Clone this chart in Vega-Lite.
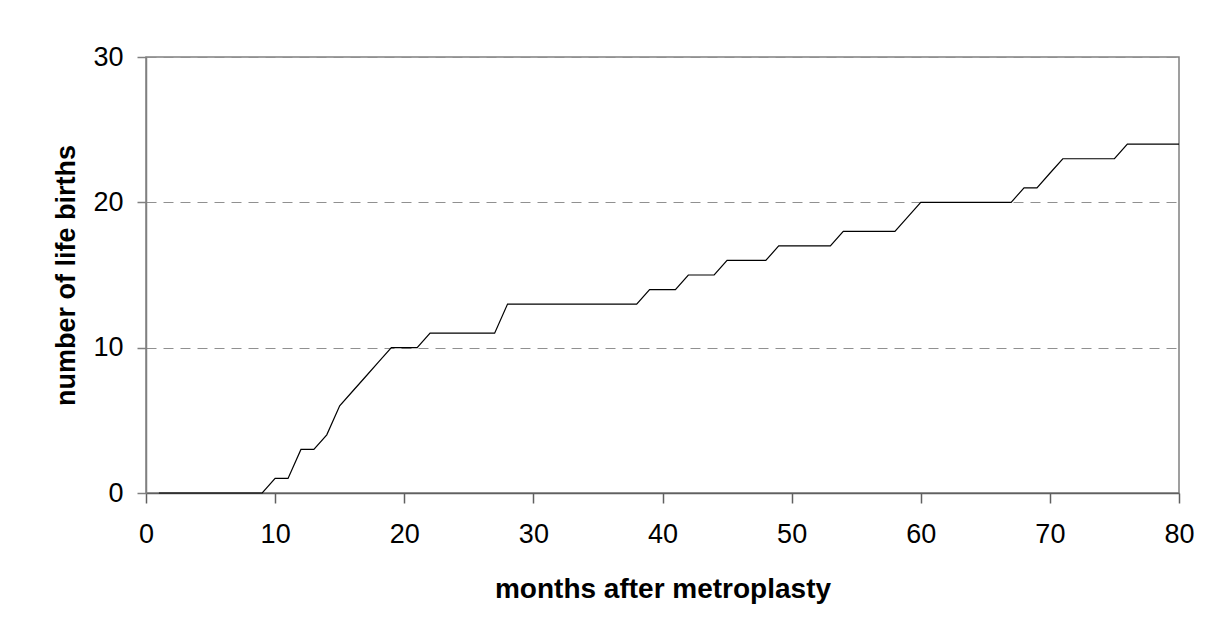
{
  "$schema": "https://vega.github.io/schema/vega-lite/v6.json",
  "autosize": {"type": "none"},
  "padding": {"left": 146, "top": 57, "right": 31, "bottom": 141},
  "width": 1033,
  "height": 436,
  "background": "white",
  "config": {
    "view": {"stroke": "#808080", "strokeWidth": 1.5},
    "font": "Liberation Sans"
  },
  "data": {
    "values": [
      {"month": 1, "births": 0}, {"month": 2, "births": 0}, {"month": 3, "births": 0},
      {"month": 4, "births": 0}, {"month": 5, "births": 0}, {"month": 6, "births": 0},
      {"month": 7, "births": 0}, {"month": 8, "births": 0}, {"month": 9, "births": 0},
      {"month": 10, "births": 1}, {"month": 11, "births": 1}, {"month": 12, "births": 3},
      {"month": 13, "births": 3}, {"month": 14, "births": 4}, {"month": 15, "births": 6},
      {"month": 16, "births": 7}, {"month": 17, "births": 8}, {"month": 18, "births": 9},
      {"month": 19, "births": 10}, {"month": 20, "births": 10}, {"month": 21, "births": 10},
      {"month": 22, "births": 11}, {"month": 23, "births": 11}, {"month": 24, "births": 11},
      {"month": 25, "births": 11}, {"month": 26, "births": 11}, {"month": 27, "births": 11},
      {"month": 28, "births": 13}, {"month": 29, "births": 13}, {"month": 30, "births": 13},
      {"month": 31, "births": 13}, {"month": 32, "births": 13}, {"month": 33, "births": 13},
      {"month": 34, "births": 13}, {"month": 35, "births": 13}, {"month": 36, "births": 13},
      {"month": 37, "births": 13}, {"month": 38, "births": 13}, {"month": 39, "births": 14},
      {"month": 40, "births": 14}, {"month": 41, "births": 14}, {"month": 42, "births": 15},
      {"month": 43, "births": 15}, {"month": 44, "births": 15}, {"month": 45, "births": 16},
      {"month": 46, "births": 16}, {"month": 47, "births": 16}, {"month": 48, "births": 16},
      {"month": 49, "births": 17}, {"month": 50, "births": 17}, {"month": 51, "births": 17},
      {"month": 52, "births": 17}, {"month": 53, "births": 17}, {"month": 54, "births": 18},
      {"month": 55, "births": 18}, {"month": 56, "births": 18}, {"month": 57, "births": 18},
      {"month": 58, "births": 18}, {"month": 59, "births": 19}, {"month": 60, "births": 20},
      {"month": 61, "births": 20}, {"month": 62, "births": 20}, {"month": 63, "births": 20},
      {"month": 64, "births": 20}, {"month": 65, "births": 20}, {"month": 66, "births": 20},
      {"month": 67, "births": 20}, {"month": 68, "births": 21}, {"month": 69, "births": 21},
      {"month": 70, "births": 22}, {"month": 71, "births": 23}, {"month": 72, "births": 23},
      {"month": 73, "births": 23}, {"month": 74, "births": 23}, {"month": 75, "births": 23},
      {"month": 76, "births": 24}, {"month": 77, "births": 24}, {"month": 78, "births": 24},
      {"month": 79, "births": 24}, {"month": 80, "births": 24}
    ]
  },
  "mark": {"type": "line", "color": "black", "strokeWidth": 1.2, "interpolate": "linear"},
  "encoding": {
    "x": {
      "field": "month",
      "type": "quantitative",
      "scale": {"domain": [0, 80], "nice": false, "zero": true},
      "axis": {
        "title": "months after metroplasty",
        "values": [0, 10, 20, 30, 40, 50, 60, 70, 80],
        "grid": false,
        "domainColor": "#606060",
        "domainWidth": 1.5,
        "tickColor": "#606060",
        "tickWidth": 1.5,
        "tickSize": 10,
        "labelFont": "Liberation Sans",
        "labelFontSize": 27,
        "labelColor": "black",
        "labelPadding": 18,
        "labelFlush": false,
        "titleFont": "Liberation Sans",
        "titleFontSize": 28,
        "titleFontWeight": "bold",
        "titleColor": "black",
        "titlePadding": 28
      }
    },
    "y": {
      "field": "births",
      "type": "quantitative",
      "scale": {"domain": [0, 30], "nice": false},
      "axis": {
        "title": "number of life births",
        "values": [0, 10, 20, 30],
        "grid": true,
        "gridColor": "#909090",
        "gridDash": [10, 7],
        "gridWidth": 1,
        "domainColor": "#808080",
        "domainWidth": 1.5,
        "tickColor": "#808080",
        "tickWidth": 1.5,
        "tickSize": 9,
        "labelFont": "Liberation Sans",
        "labelFontSize": 27,
        "labelColor": "black",
        "labelPadding": 14,
        "titleFont": "Liberation Sans",
        "titleFontSize": 27,
        "titleFontWeight": "bold",
        "titleColor": "black",
        "titlePadding": 12
      }
    }
  }
}
